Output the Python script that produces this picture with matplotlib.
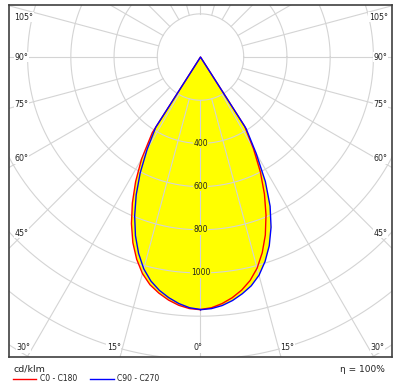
import numpy as np
import matplotlib.pyplot as plt
from matplotlib.lines import Line2D

# luminous intensity (cd/klm) per gamma angle
gamma = [0, 2.5, 5, 7.5, 10, 12.5, 15, 17.5, 20, 22.5, 25, 27.5, 30, 32.5, 35,
         40, 45, 50, 55, 60, 65, 70, 75, 80, 85, 90]
c0 = [1169, 1162, 1146, 1124, 1096, 1060, 1012, 950, 877, 792, 700, 600, 490, 380, 0,
      0, 0, 0, 0, 0, 0, 0, 0, 0, 0, 0]
c180 = [1170, 1166, 1154, 1135, 1110, 1080, 1038, 982, 915, 835, 746, 650, 546, 415, 0,
        0, 0, 0, 0, 0, 0, 0, 0, 0, 0, 0]
c90 = [1170, 1166, 1155, 1137, 1113, 1085, 1046, 993, 930, 853, 762, 650, 515, 392, 0,
       0, 0, 0, 0, 0, 0, 0, 0, 0, 0, 0]
c270 = [1169, 1162, 1146, 1124, 1097, 1062, 1015, 953, 880, 796, 704, 604, 494, 385, 0,
        0, 0, 0, 0, 0, 0, 0, 0, 0, 0, 0]

rings = [200, 400, 600, 800, 1000, 1200, 1400, 1600]
ring_labels = [400, 600, 800, 1000]
side_angles = [45, 60, 75, 90, 105]
bottom_angles = [0, 15, 30]

grid_col = "#d4d4d4"
text_col = "#222222"

fig = plt.figure(figsize=(4.02, 3.90), dpi=100)
ax = fig.add_axes([9 / 402, 33 / 390, 383 / 402, 352 / 390])
ax.set_xlim(-886, 886)
ax.set_ylim(-1389, 241)
ax.set_xticks([])
ax.set_yticks([])
for s in ax.spines.values():
    s.set_color("#404040")
    s.set_linewidth(1.2)

g = np.radians(gamma)


def curve(right, left):
    right = np.array(right)
    left = np.array(left)
    x = np.concatenate([right * np.sin(g), (-left * np.sin(g))[::-1]])
    y = np.concatenate([-right * np.cos(g), (-left * np.cos(g))[::-1]])
    return x, y


red_x, red_y = curve(c0, c180)
blue_x, blue_y = curve(c90, c270)

ax.fill(red_x, red_y, color="#ffff00", lw=0, zorder=1)
ax.fill(blue_x, blue_y, color="#ffff00", lw=0, zorder=1)

# grid
t = np.linspace(0, 2 * np.pi, 500)
for r in rings:
    ax.plot(r * np.cos(t), r * np.sin(t), color=grid_col, lw=0.8, zorder=2)
for a in range(0, 360, 15):
    ar = np.radians(a)
    ax.plot([200 * np.sin(ar), 2000 * np.sin(ar)], [-200 * np.cos(ar), -2000 * np.cos(ar)],
            color=grid_col, lw=0.8, zorder=2)

ax.plot(red_x, red_y, color="red", lw=1, zorder=3)
ax.plot(blue_x, blue_y, color="blue", lw=1, zorder=3)

for r in ring_labels:
    ax.text(0, -r, str(r), ha="center", va="center", fontsize=5.5, color=text_col,
            bbox=dict(fc="#ffff00", ec="none", pad=0.3), zorder=4)

lbl_box = dict(fc="white", ec="none", pad=0.5)
for a in side_angles:
    ar = np.radians(a)
    y = min(-815 * np.cos(ar) / np.sin(ar), 185)
    ax.text(-861, y, f"{a}°", ha="left", va="center", fontsize=5.7, color=text_col, bbox=lbl_box, zorder=4)
    ax.text(866, y, f"{a}°", ha="right", va="center", fontsize=5.7, color=text_col, bbox=lbl_box, zorder=4)
for a in bottom_angles:
    xb = 1347 * np.tan(np.radians(a))
    if a == 0:
        ax.text(8, -1347, "0°", ha="right", va="center", fontsize=5.7, color=text_col, bbox=lbl_box, zorder=4)
        continue
    ax.text(-xb - 8, -1347, f"{a}°", ha="right", va="center", fontsize=5.7, color=text_col, bbox=lbl_box, zorder=4)
    ax.text(xb + 8, -1347, f"{a}°", ha="left", va="center", fontsize=5.7, color=text_col, bbox=lbl_box, zorder=4)

# footer
fig.text(14 / 402, 1 - 369 / 390, "cd/klm", fontsize=6.8, va="center", color=text_col)
fig.text(385 / 402, 1 - 369 / 390, "η = 100%", fontsize=6.5, va="center", ha="right", color=text_col)
ly = 1 - 378.5 / 390
fig.add_artist(Line2D([13 / 402, 36 / 402], [ly, ly], color="red", lw=1, transform=fig.transFigure))
fig.text(40 / 402, ly, "C0 - C180", fontsize=5.5, va="center", color=text_col)
fig.add_artist(Line2D([90 / 402, 114 / 402], [ly, ly], color="blue", lw=1, transform=fig.transFigure))
fig.text(117 / 402, ly, "C90 - C270", fontsize=5.5, va="center", color=text_col)

plt.savefig("out.png", dpi=100)
plt.close()
